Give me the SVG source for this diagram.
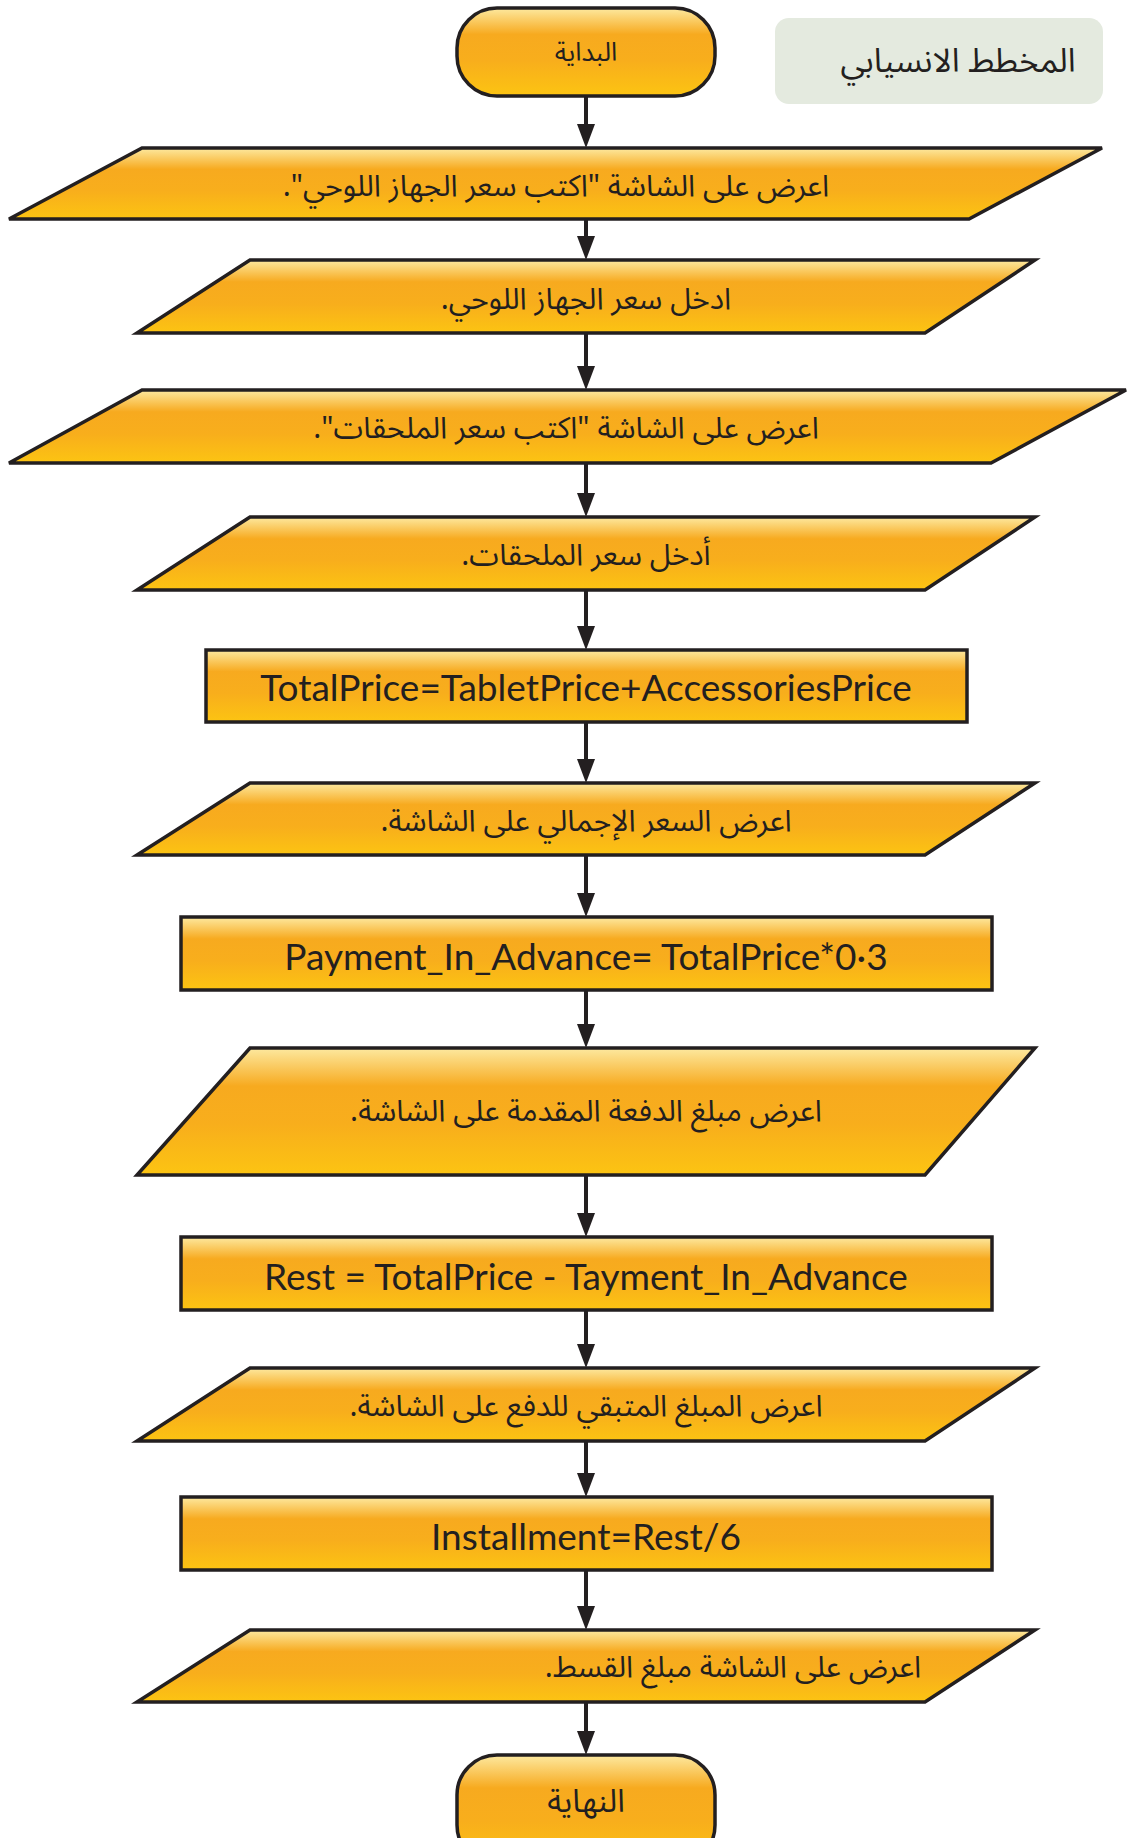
<svg xmlns="http://www.w3.org/2000/svg" width="1129" height="1838" viewBox="0 0 1129 1838">
<defs>
<linearGradient id="g" x1="0" y1="0" x2="0" y2="1">
<stop offset="0" stop-color="#fde9a0"/>
<stop offset="0.3" stop-color="#f7aa1f"/>
<stop offset="0.6" stop-color="#f8ae1c"/>
<stop offset="1" stop-color="#fcc412"/>
</linearGradient>
<style>
.s{fill:url(#g);stroke:#231f20;stroke-width:3.5;stroke-linejoin:miter}
.ar{font-family:"Noto Sans Arabic","DejaVu Sans",sans-serif;font-size:30px;fill:#231f20;text-anchor:middle;direction:rtl}
.en{font-family:Lato,"Noto Sans",sans-serif;font-size:37px;fill:#231f20;text-anchor:middle}
.c line{stroke:#231f20;stroke-width:4}
.c path{fill:#231f20}
</style>
</defs>
<rect width="1129" height="1838" fill="#ffffff"/>
<g id="title">
<rect x="775" y="18" width="328" height="86" rx="14" fill="#e4eadf"/>
<text x="958" y="72" class="ar" style="font-size:33px">المخطط الانسيابي</text>
</g>
<g id="start">
<rect x="457" y="8" width="258" height="88" rx="40" class="s"/>
<text x="586" y="61" class="ar" style="font-size:26px">البداية</text>
</g>
<g id="out1">
<polygon points="142,148 1102,148 969,219 9,219" class="s"/>
<text x="556" y="196" class="ar">اعرض على الشاشة "اكتب سعر الجهاز اللوحي".</text>
</g>
<g id="in1">
<polygon points="250,260 1035,260 925,333 137,333" class="s"/>
<text x="586" y="309" class="ar">ادخل سعر الجهاز اللوحي.</text>
</g>
<g id="out2">
<polygon points="142,390 1126,390 991,463 9,463" class="s"/>
<text x="566" y="438" class="ar">اعرض على الشاشة "اكتب سعر الملحقات".</text>
</g>
<g id="in2">
<polygon points="250,517 1035,517 925,590 137,590" class="s"/>
<text x="586" y="565" class="ar">أدخل سعر الملحقات.</text>
</g>
<g id="calc1">
<rect x="206" y="650" width="761" height="72" class="s"/>
<text x="586" y="701" class="en">TotalPrice=TabletPrice+AccessoriesPrice</text>
</g>
<g id="out3">
<polygon points="250,783 1035,783 925,855 137,855" class="s"/>
<text x="586" y="831" class="ar">اعرض السعر الإجمالي على الشاشة.</text>
</g>
<g id="calc2">
<rect x="181" y="917" width="811" height="73" class="s"/>
<text x="586" y="970" class="en">Payment_In_Advance= TotalPrice*0·3</text>
</g>
<g id="out4">
<polygon points="250,1048 1035,1048 925,1175 137,1175" class="s"/>
<text x="586" y="1121" class="ar">اعرض مبلغ الدفعة المقدمة على الشاشة.</text>
</g>
<g id="calc3">
<rect x="181" y="1237" width="811" height="73" class="s"/>
<text x="586" y="1290" class="en">Rest = TotalPrice - Tayment_In_Advance</text>
</g>
<g id="out5">
<polygon points="250,1368 1035,1368 925,1441 137,1441" class="s"/>
<text x="586" y="1416" class="ar">اعرض المبلغ المتبقي للدفع على الشاشة.</text>
</g>
<g id="calc4">
<rect x="181" y="1497" width="811" height="73" class="s"/>
<text x="586" y="1550" class="en">Installment=Rest/6</text>
</g>
<g id="out6">
<polygon points="250,1630 1035,1630 925,1702 137,1702" class="s"/>
<text x="733" y="1677" class="ar">اعرض على الشاشة مبلغ القسط.</text>
</g>
<g id="end">
<rect x="457" y="1755" width="258" height="110" rx="40" class="s"/>
<text x="586" y="1812" class="ar" style="font-size:32px">النهاية</text>
</g>
<g id="connectors" class="c">
<line x1="586" y1="96" x2="586" y2="126"/><path d="M577,124 L595,124 L586,148 Z"/>
<line x1="586" y1="219" x2="586" y2="238"/><path d="M577,236 L595,236 L586,260 Z"/>
<line x1="586" y1="333" x2="586" y2="368"/><path d="M577,366 L595,366 L586,390 Z"/>
<line x1="586" y1="463" x2="586" y2="495"/><path d="M577,493 L595,493 L586,517 Z"/>
<line x1="586" y1="590" x2="586" y2="628"/><path d="M577,626 L595,626 L586,650 Z"/>
<line x1="586" y1="722" x2="586" y2="761"/><path d="M577,759 L595,759 L586,783 Z"/>
<line x1="586" y1="855" x2="586" y2="895"/><path d="M577,893 L595,893 L586,917 Z"/>
<line x1="586" y1="990" x2="586" y2="1026"/><path d="M577,1024 L595,1024 L586,1048 Z"/>
<line x1="586" y1="1175" x2="586" y2="1215"/><path d="M577,1213 L595,1213 L586,1237 Z"/>
<line x1="586" y1="1310" x2="586" y2="1346"/><path d="M577,1344 L595,1344 L586,1368 Z"/>
<line x1="586" y1="1441" x2="586" y2="1475"/><path d="M577,1473 L595,1473 L586,1497 Z"/>
<line x1="586" y1="1570" x2="586" y2="1608"/><path d="M577,1606 L595,1606 L586,1630 Z"/>
<line x1="586" y1="1702" x2="586" y2="1733"/><path d="M577,1731 L595,1731 L586,1755 Z"/>
</g>
</svg>
